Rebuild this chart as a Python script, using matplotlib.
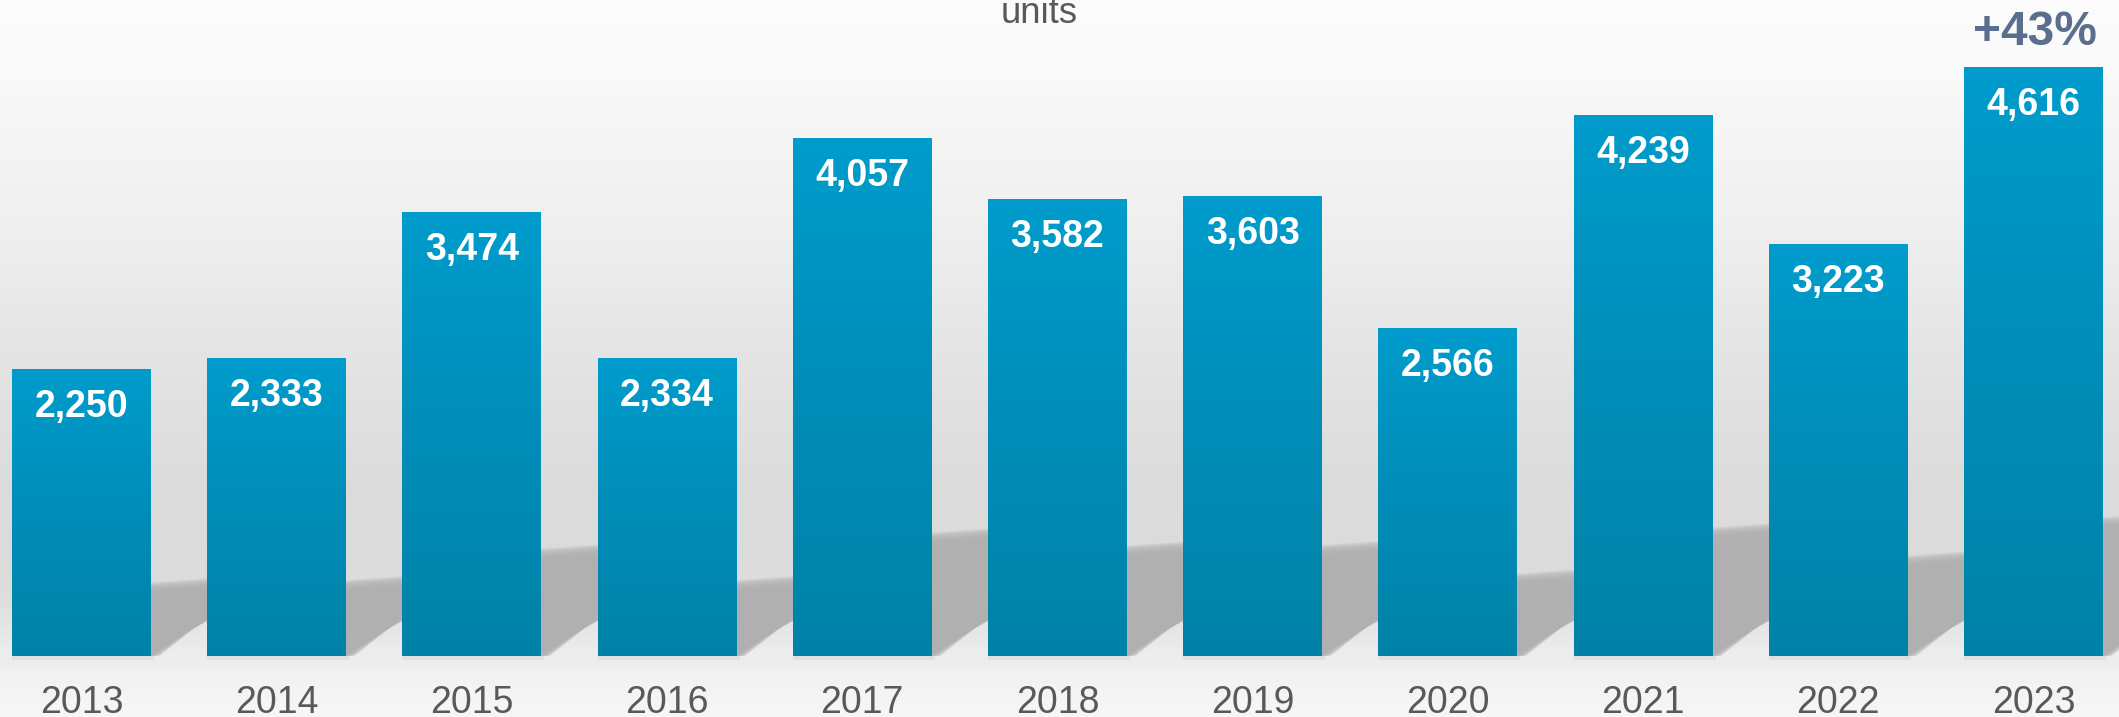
import numpy as np
import matplotlib.pyplot as plt
from matplotlib.colors import LinearSegmentedColormap
from matplotlib.patches import Polygon, Rectangle

# data
years = ['2013', '2014', '2015', '2016', '2017', '2018', '2019', '2020', '2021', '2022', '2023']
units = [2250, 2333, 3474, 2334, 4057, 3582, 3603, 2566, 4239, 3223, 4616]
unit_label = 'units'
growth_label = '+43%'

plt.rcParams['font.family'] = ['Liberation Sans', 'DejaVu Sans']

W_PX, H_PX = 2119, 717
fig = plt.figure(figsize=(W_PX / 100, H_PX / 100), dpi=100)
ax = fig.add_axes([0, 0, 1, 1])
ax.set_axis_off()

xlim = (-0.4175, 10.438)
ylim = (-480, 5139)
sx = W_PX / (xlim[1] - xlim[0])   # pixels per x unit
sy = H_PX / (ylim[1] - ylim[0])   # pixels per y unit

# background: white at top, grey in the middle, light floor below the bars
bg_y = [0, 80, 200, 300, 400, 480, 560, 600, 630, 655, 656, 675, 717]
bg_v = [252, 249, 241, 233, 225, 220, 219, 222, 230, 238, 236, 242, 247]
rows = np.interp(np.arange(H_PX), bg_y, bg_v) / 255
bg = np.repeat(rows[:, None], 3, axis=1)[:, None, :]
ax.imshow(bg, extent=(xlim[0], xlim[1], ylim[0], ylim[1]), aspect='auto',
          interpolation='bilinear', zorder=0)

x = np.arange(len(years))
bar_w = 0.712
bars = ax.bar(x, units, width=bar_w, color='none', edgecolor='none', zorder=3)

# soft shadows cast behind each bar
n_layers = 16
blur = 9.0
k = 0.65      # slope of the lower edge (px per px)
t = 0.1       # slope of the upper edge
for xi, v in zip(x, units):
    R = xi + bar_w / 2
    h = 0.216 * v * sy   # shadow height in px
    span = 80.0
    for j in range(n_layers):
        e = blur * (1 - 2 * j / (n_layers - 1))
        pts_px = [(-30, h + e), (span, h + t * span + e),
                  (span, k * (span + e) - e * 1.2), (-e, 0), (-30, 0)]
        pts = [(R + px / sx, py / sy) for px, py in pts_px]
        ax.add_patch(Polygon(pts, closed=True, facecolor='#b0b0b0', edgecolor='none',
                             alpha=0.27, zorder=1))
    # faint shade right under the bar foot
    ax.add_patch(Rectangle((xi - bar_w / 2, -4 / sy), bar_w + 3 / sx, 4 / sy,
                           facecolor='#d9d9d9', edgecolor='none', alpha=0.6, zorder=1))

# vertical gradient inside each bar
bar_cmap = LinearSegmentedColormap.from_list('bar', ['#0082a8', '#008db8', '#009ccc'])
grad = np.linspace(1, 0, 256)[:, None]
for b in bars:
    x0 = b.get_x()
    im = ax.imshow(grad, cmap=bar_cmap, extent=(x0, x0 + b.get_width(), 0, b.get_height()),
                   aspect='auto', interpolation='bilinear', vmin=0, vmax=1, zorder=3)
    im.set_clip_path(b)

# value labels inside the bars
for xi, v in zip(x, units):
    ax.annotate(f'{v:,}', xy=(xi, v), xytext=(0, -48 * 0.72), textcoords='offset points',
                ha='center', va='baseline', color='white', fontsize=27,
                fontweight='bold', zorder=5)

# year labels under the bars
for xi, yr in zip(x, years):
    ax.annotate(yr, xy=(xi, 0), xytext=(0, -57 * 0.72), textcoords='offset points',
                ha='center', va='baseline', color='#595959', fontsize=27, zorder=5)

# growth marker above the last bar
ax.annotate(growth_label, xy=(x[-1], units[-1]), xytext=(1, 21.7 * 0.72),
            textcoords='offset points', ha='center', va='baseline', color='#5b6e8e',
            fontsize=34.5, fontweight='bold', zorder=5)

fig.text(1039 / W_PX, 1 - 23.3 / H_PX, unit_label, ha='center', va='baseline',
         color='#595959', fontsize=26.3)

ax.set_xlim(*xlim)
ax.set_ylim(*ylim)

fig.savefig('out.png', dpi=100)
